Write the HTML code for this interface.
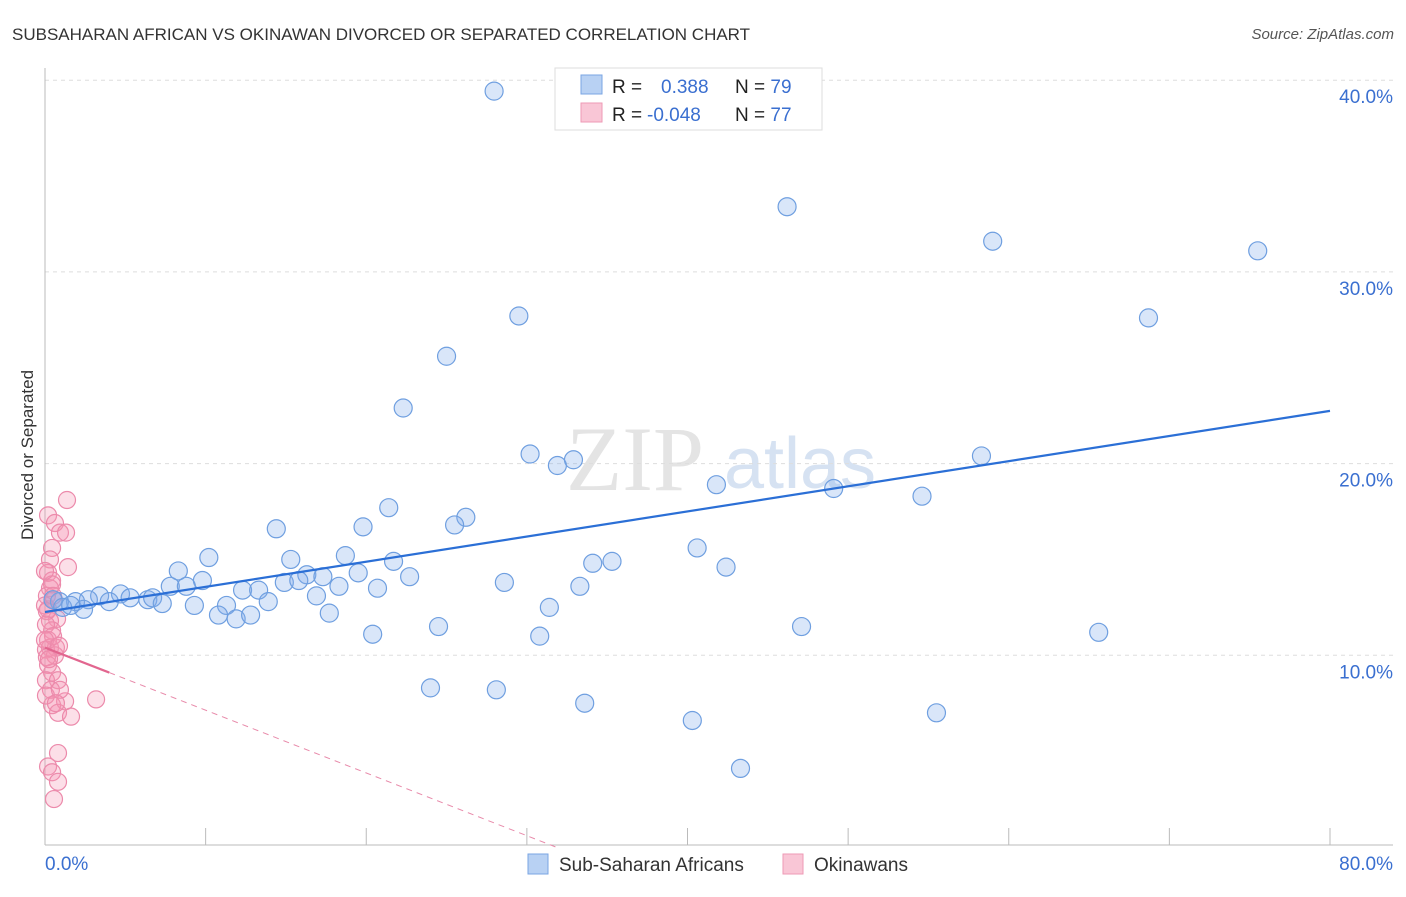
<!DOCTYPE html>
<html><head><meta charset="utf-8"><style>
body{margin:0;background:#fff;font-family:"Liberation Sans",sans-serif;}
svg text{font-family:"Liberation Sans",sans-serif;}
</style></head><body>
<svg id="chart" width="1406" height="892" viewBox="0 0 1406 892" xmlns="http://www.w3.org/2000/svg">
<text x="12" y="40" font-size="17" fill="#333">SUBSAHARAN AFRICAN VS OKINAWAN DIVORCED OR SEPARATED CORRELATION CHART</text>
<text x="1394" y="39" font-size="15" fill="#555" text-anchor="end" font-style="italic">Source: ZipAtlas.com</text>
<text x="33" y="455" font-size="17" fill="#333" text-anchor="middle" transform="rotate(-90 33 455)">Divorced or Separated</text>
<g>
<text x="635" y="490" font-size="92" fill="#e4e4e4" text-anchor="middle" font-family="Liberation Serif" style="font-family:'Liberation Serif',serif">ZIP</text>
<text x="800" y="488" font-size="72" fill="#d6e2f2" text-anchor="middle">atlas</text>
</g>
<g id="grid"></g>
<g id="axes"></g>
<g id="pinkPts"></g>
<g id="bluePts"></g>
<g id="trends"></g>
<g>
<rect x="555" y="68" width="267" height="62" fill="#fff" stroke="#ddd"/>
<rect x="581" y="75" width="21" height="19" fill="#b8d1f3" stroke="#7aa5e3"/>
<rect x="581" y="103" width="21" height="19" fill="#f9c6d6" stroke="#ee9ab5"/>
<text x="612" y="93" font-size="19" fill="#222">R = <tspan x="661" fill="#3a6fd0">0.388</tspan></text>
<text x="735" y="93" font-size="19" fill="#222">N = <tspan fill="#3a6fd0">79</tspan></text>
<text x="612" y="121" font-size="19" fill="#222">R = <tspan x="647" fill="#3a6fd0">-0.048</tspan></text>
<text x="735" y="121" font-size="19" fill="#222">N = <tspan fill="#3a6fd0">77</tspan></text>
</g>
<g>
<rect x="528" y="854" width="20" height="20" fill="#b8d1f3" stroke="#7aa5e3"/>
<text x="559" y="871" font-size="19" fill="#333">Sub-Saharan Africans</text>
<rect x="783" y="854" width="20" height="20" fill="#f9c6d6" stroke="#ee9ab5"/>
<text x="814" y="871" font-size="19" fill="#333">Okinawans</text>
</g>
</svg>
<script>
const yTicks=[10,20,30,40];
const yTickLabels=["10.0%","20.0%","30.0%","40.0%"];
const xTicks=[0,10,20,30,40,50,60,70,80];
const xEndLabels=["0.0%","80.0%"];
const blueX=[27.96,46.2,59.0,75.5,68.7,29.5,25.0,22.3,30.2,31.9,32.9,58.3,41.8,49.1,54.6,21.4,26.2,25.5,19.8,14.4,40.6,10.2,15.3,18.7,21.7,34.1,35.3,42.4,8.3,16.3,17.3,19.5,22.7,9.8,14.9,28.6,15.8,7.8,8.8,18.3,33.3,12.3,13.3,20.7,16.9,4.7,3.4,5.3,6.4,6.7,7.3,4.0,2.7,1.9,0.9,0.5,1.1,2.4,1.6,9.3,11.3,13.9,31.4,10.8,11.9,12.8,17.7,20.4,24.5,47.1,65.6,30.8,24.0,28.1,33.6,40.3,55.5,43.3];
const blueY=[39.43,33.4,31.6,31.1,27.6,27.7,25.6,22.9,20.5,19.9,20.2,20.4,18.9,18.7,18.3,17.7,17.2,16.8,16.7,16.6,15.6,15.1,15.0,15.2,14.9,14.8,14.9,14.6,14.4,14.2,14.1,14.3,14.1,13.9,13.8,13.8,13.9,13.6,13.6,13.6,13.6,13.4,13.4,13.5,13.1,13.2,13.1,13.0,12.9,13.0,12.7,12.8,12.9,12.8,12.8,12.9,12.5,12.4,12.6,12.6,12.6,12.8,12.5,12.1,11.9,12.1,12.2,11.1,11.5,11.5,11.2,11.0,8.3,8.2,7.5,6.6,7.0,4.1];
const pinkX=[1.37,0.19,0.62,0.93,1.31,0.44,0.31,1.43,0.19,0.44,0.31,0.12,0.56,0.19,0.75,0.31,0.44,0.19,0.31,0.68,0.06,0.62,0.19,0.44,0.06,0.81,3.18,1.25,0.44,0.81,1.62,0.81,0.19,0.44,0.81,0.56,0,0.12,0.44,0.06,0.5,0.12,0.37,0.06,0.93,0.68,0.25,0,0.5,0,0.87];
const pinkY=[18.1,17.3,16.9,16.4,16.4,15.6,15.0,14.6,14.3,13.9,13.5,13.1,12.9,12.4,11.9,11.8,11.3,10.8,10.4,10.4,10.3,10.0,9.5,9.1,8.7,8.7,7.7,7.6,7.4,7.0,6.8,4.9,4.2,3.9,3.4,2.5,12.6,12.3,13.7,11.6,11.0,9.9,8.2,7.9,8.2,7.5,9.8,14.4,13.1,10.8,10.5];
const blueTrend=[[0,12.26],[80,22.75]];
const pinkTrendSolid=[[0,10.4],[4,9.1]];
const pinkTrendDash=[[4,9.1],[31.8,0]];

const X=v=>45+v*(1285/80);
const Y=v=>847-v*19.17;
const NS="http://www.w3.org/2000/svg";
function mk(tag,attrs,parent){const e=document.createElementNS(NS,tag);for(const k in attrs)e.setAttribute(k,attrs[k]);parent.appendChild(e);return e;}
const grid=document.getElementById('grid'),axes=document.getElementById('axes');
yTicks.forEach((t,i)=>{
  const l=mk('line',{x1:45,x2:1393,y1:Y(t),y2:Y(t),stroke:'#ddd','stroke-dasharray':'4,4'},grid);
  
  
  const tx=mk('text',{x:1393,y:Y(t)+23,'font-size':19,fill:'#3a6fd0','text-anchor':'end'},axes);
  tx.textContent=yTickLabels[i];
  
  
});
const ax=mk('line',{x1:45,x2:45,y1:68,y2:845,stroke:'#bbb'},axes);


const bx=mk('line',{x1:45,x2:1393,y1:845,y2:845,stroke:'#bbb'},axes);


xTicks.forEach(t=>{
  const l=mk('line',{x1:X(t),x2:X(t),y1:828,y2:845,stroke:'#bbb'},axes);
  
  
});
const xl0=mk('text',{x:45,y:870,'font-size':19,fill:'#3a6fd0'},axes);xl0.textContent=xEndLabels[0];


const xl1=mk('text',{x:1393,y:870,'font-size':19,fill:'#3a6fd0','text-anchor':'end'},axes);xl1.textContent=xEndLabels[1];


const pg=document.getElementById('pinkPts');
pinkX.forEach((x,i)=>{
  const c=mk('circle',{cx:X(x),cy:Y(pinkY[i]),r:8.5,fill:'rgba(244,150,180,0.3)',stroke:'#ec8aab','stroke-width':1.2},pg);
  
  
});
const bg=document.getElementById('bluePts');
blueX.forEach((x,i)=>{
  const c=mk('circle',{cx:X(x),cy:Y(blueY[i]),r:9,fill:'rgba(130,172,235,0.3)',stroke:'#6f9fe0','stroke-width':1.2},bg);
  
  
});
const tg=document.getElementById('trends');
const bt=mk('line',{x1:X(blueTrend[0][0]),y1:Y(blueTrend[0][1]),x2:X(blueTrend[1][0]),y2:Y(blueTrend[1][1]),stroke:'#2b6fd6','stroke-width':2.2},tg);


const ps=mk('line',{x1:X(pinkTrendSolid[0][0]),y1:Y(pinkTrendSolid[0][1]),x2:X(pinkTrendSolid[1][0]),y2:Y(pinkTrendSolid[1][1]),stroke:'#e2668f','stroke-width':2.2},tg);


const pd=mk('line',{x1:X(pinkTrendDash[0][0]),y1:Y(pinkTrendDash[0][1]),x2:X(pinkTrendDash[1][0]),y2:Y(pinkTrendDash[1][1]),stroke:'#e88aaa','stroke-width':1,'stroke-dasharray':'6,5'},tg);


</script>
</body></html>
